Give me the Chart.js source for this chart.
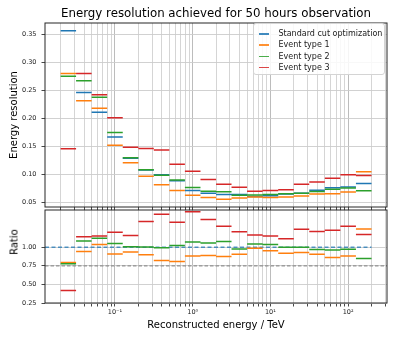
<!DOCTYPE html>
<html>
<head>
<meta charset="utf-8">
<script src="https://cdn.jsdelivr.net/npm/chart.js@4.4.1/dist/chart.umd.min.js"></script>
<style>
  body { margin: 0; background: #fff; }
  #wrap { position: relative; width: 399px; height: 342px; font-family: "DejaVu Sans", sans-serif; }
  #res { position: absolute; left: 0; top: 0; }
  #ratio { position: absolute; left: 0; top: 208px; }
  #title { position: absolute; left: 216px; top: 12.7px; transform: translate(-50%, -50%);
           font-size: 11.8px; color: #000; white-space: nowrap; }
  #legend { position: absolute; left: 253px; top: 23px; width: 132px; height: 52px; box-sizing: border-box;
            border: 1px solid #d4d4d4; border-radius: 3px; background: rgba(255,255,255,0.85); padding-top: 4px; }
  .row { position: relative; height: 11.3px; line-height: 11.3px; font-size: 8px; color: #1a1a1a; white-space: nowrap; }
  .row .h { position: absolute; left: 4.5px; top: 5px; width: 10px; height: 1.6px; opacity: 0.85; }
  .row .t { position: absolute; left: 24.5px; top: 0; }
  #ratioLabel { position: absolute; left: 14px; top: 242px; transform: translate(-50%, -50%) rotate(-90deg);
                font-size: 10px; color: #000; white-space: nowrap; }
</style>
</head>
<body>
<div id="wrap">
  <canvas id="res" width="399" height="210"></canvas>
  <canvas id="ratio" width="399" height="134"></canvas>
  <div id="title">Energy resolution achieved for 50 hours observation</div>
  <div id="legend"></div>
  <div id="ratioLabel">Ratio</div>
</div>
<script>
// energy bins (TeV), 5 per decade
const binEdges = [0.02, 0.0316, 0.0501, 0.0794, 0.126, 0.2, 0.316, 0.501, 0.794, 1.26, 2,
                  3.16, 5.01, 7.94, 12.6, 20, 31.6, 50.1, 79.4, 126, 200];

// energy resolution per bin
const stdCut = [0.356, 0.246, 0.211, 0.167, 0.129, 0.108, 0.0995, 0.0886, 0.0713, 0.0664,
                0.0641, 0.0642, 0.0606, 0.0619, 0.0653, 0.0666, 0.0719, 0.0762, 0.0778, 0.0840];
const type1 = [0.280, 0.2315, 0.218, 0.152, 0.1207, 0.097, 0.0815, 0.0714, 0.063, 0.0589,
               0.0559, 0.0582, 0.0598, 0.0589, 0.0600, 0.0618, 0.0653, 0.0655, 0.0686, 0.1047];
const type2 = [0.275, 0.267, 0.2375, 0.175, 0.1297, 0.1083, 0.0987, 0.0903, 0.0766, 0.0702,
               0.0690, 0.0628, 0.0632, 0.0641, 0.0654, 0.0666, 0.0697, 0.0735, 0.0758, 0.0710];
const type3 = [0.146, 0.280, 0.242, 0.201, 0.1487, 0.1464, 0.1434, 0.1184, 0.1059, 0.0910,
               0.0827, 0.0773, 0.0700, 0.0712, 0.0726, 0.0827, 0.0867, 0.0934, 0.0995, 0.0982];

// ratio to standard cut optimization
const ratio1 = [0.794, 0.942, 1.036, 0.910, 0.937, 0.897, 0.821, 0.808, 0.883, 0.888,
                0.875, 0.906, 0.987, 0.951, 0.919, 0.928, 0.906, 0.861, 0.883, 1.246];
const ratio2 = [0.776, 1.085, 1.121, 1.050, 1.005, 1.004, 0.991, 1.022, 1.071, 1.058,
                1.076, 0.977, 1.044, 1.036, 1.000, 1.000, 0.969, 0.964, 0.973, 0.848];
const ratio3 = [0.418, 1.139, 1.152, 1.200, 1.157, 1.345, 1.444, 1.336, 1.475, 1.372,
                1.282, 1.206, 1.165, 1.152, 1.112, 1.242, 1.211, 1.228, 1.282, 1.171];

const seriesNames = ['Standard cut optimization', 'Event type 1', 'Event type 2', 'Event type 3'];
const colors = ['#1f77b4', '#ff7f0e', '#2ca02c', '#d62728'];

const resTicks = [0.05, 0.10, 0.15, 0.20, 0.25, 0.30, 0.35];
const ratioTicks = [0.25, 0.50, 0.75, 1.00];
const decadeTicks = [0.1, 1, 10, 100];
const decadeLabels = ['10\u207b\u00b9', '10\u2070', '10\u00b9', '10\u00b2'];

const xMin = Math.pow(10, -1.9), xMax = Math.pow(10, 2.5);

Chart.defaults.font.family = "'DejaVu Sans', sans-serif";
Chart.defaults.color = '#222';

// log grid: 1..9 x 10^n inside the axis range
const gridValues = [];
for (let e = -2; e <= 2; e++) {
  for (let m = 1; m <= 9; m++) {
    const v = Number((m * Math.pow(10, e)).toPrecision(6));
    if (v >= xMin && v <= xMax) gridValues.push(v);
  }
}
const isDecade = v => decadeTicks.some(d => Math.abs(d - v) / d < 1e-9);

// one horizontal step per bin, broken by a null between bins
function steps(vals) {
  const pts = [];
  vals.forEach((v, i) => {
    pts.push({x: binEdges[i], y: v}, {x: binEdges[i + 1], y: v}, {x: binEdges[i + 1], y: null});
  });
  return pts;
}

function line(label, data, color, order, extra) {
  return Object.assign({
    label: label, data: data, borderColor: color, backgroundColor: color,
    borderWidth: 1.5, pointRadius: 0, tension: 0, spanGaps: false, fill: false, order: order
  }, extra || {});
}

const frame = {
  id: 'frame',
  afterDraw(chart) {
    const {ctx, chartArea: a} = chart;
    ctx.save();
    ctx.strokeStyle = '#262626';
    ctx.lineWidth = 1;
    ctx.strokeRect(a.left, a.top, a.right - a.left, a.bottom - a.top);
    ctx.restore();
  }
};

function xScale(showLabels, height) {
  return {
    type: 'logarithmic', min: xMin, max: xMax,
    afterBuildTicks: s => { s.ticks = gridValues.map(v => ({value: v})); },
    afterFit: s => { s.height = height; s.paddingLeft = 0; s.paddingRight = 0; },
    border: {display: false},
    grid: {
      color: c => (c.tick && isDecade(c.tick.value)) ? '#b4b4b4' : '#d0d0d0',
      lineWidth: 0.9, tickColor: '#333', tickLength: 3.5
    },
    ticks: {
      display: showLabels, autoSkip: false, maxRotation: 0, minRotation: 0, padding: 1.5,
      font: {size: 6.5}, color: '#222',
      callback: v => { const i = decadeTicks.findIndex(d => Math.abs(d - v) / d < 1e-9); return i >= 0 ? decadeLabels[i] : ''; }
    },
    title: showLabels ? {display: true, text: 'Reconstructed energy / TeV', color: '#000',
                         font: {size: 10}, padding: {top: 0, bottom: 11}} : {display: false}
  };
}

function yScale(min, max, tickList, title) {
  return {
    type: 'linear', min: min, max: max,
    afterBuildTicks: s => { s.ticks = tickList.map(v => ({value: v})); },
    afterFit: s => { s.width = 45; s.paddingTop = 0; s.paddingBottom = 0; },
    border: {display: false},
    grid: {color: '#cccccc', lineWidth: 0.9, tickColor: '#333', tickLength: 3.5},
    ticks: {font: {size: 6.5}, color: '#222', padding: 5, callback: v => v.toFixed(2)},
    title: title ? {display: true, text: title, color: '#000', font: {size: 10}, padding: {top: 8, bottom: 0}} : {display: false}
  };
}

const resChart = new Chart(document.getElementById('res'), {
  type: 'line',
  data: {
    datasets: [
      line(seriesNames[0], steps(stdCut), colors[0], 4),
      line(seriesNames[1], steps(type1), colors[1], 3),
      line(seriesNames[2], steps(type2), colors[2], 2),
      line(seriesNames[3], steps(type3), colors[3], 1)
    ]
  },
  options: {
    responsive: false, animation: false,
    layout: {padding: {left: 0, right: 12, top: 23, bottom: 0}},
    plugins: {legend: {display: false}, tooltip: {enabled: false}},
    scales: {
      x: xScale(false, 3),
      y: yScale(0.042, 0.370, resTicks, 'Energy resolution')
    }
  },
  plugins: [frame]
});

new Chart(document.getElementById('ratio'), {
  type: 'line',
  data: {
    datasets: [
      line('0.75', [{x: xMin, y: 0.75}, {x: xMax, y: 0.75}], 'rgba(120,120,120,0.75)', 6, {borderWidth: 1.2, borderDash: [3.5, 2]}),
      line(seriesNames[0], [{x: xMin, y: 1}, {x: binEdges[binEdges.length - 1], y: 1}], 'rgba(31,119,180,0.75)', 5, {borderWidth: 1.5, borderDash: [4, 2.5]}),
      line(seriesNames[1], steps(ratio1), colors[1], 3),
      line(seriesNames[2], steps(ratio2), colors[2], 2),
      line(seriesNames[3], steps(ratio3), colors[3], 1)
    ]
  },
  options: {
    responsive: false, animation: false,
    layout: {padding: {left: 0, right: 12, top: 2, bottom: 0}},
    plugins: {legend: {display: false}, tooltip: {enabled: false}},
    scales: {
      x: xScale(true, 39),
      y: yScale(0.25, 1.5, ratioTicks, null)
    }
  },
  plugins: [frame]
});

// legend built from the resolution chart's datasets
const legendEl = document.getElementById('legend');
resChart.data.datasets.forEach(ds => {
  const row = document.createElement('div');
  row.className = 'row';
  row.innerHTML = '<span class="h" style="background:' + ds.borderColor + '"></span><span class="t">' + ds.label + '</span>';
  legendEl.appendChild(row);
});
</script>
</body>
</html>
